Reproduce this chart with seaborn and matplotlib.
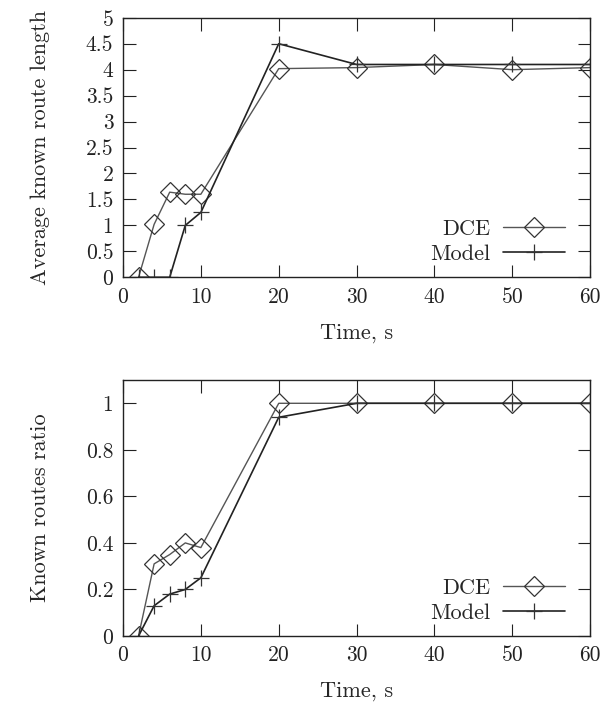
import numpy as np
import pandas as pd
import matplotlib
matplotlib.use("Agg")
import matplotlib.pyplot as plt
import seaborn as sns
from matplotlib.ticker import FuncFormatter

# data
time_s = [2, 4, 6, 8, 10, 20, 30, 40, 50, 60]
len_dce = [0, 1.02, 1.64, 1.60, 1.60, 4.02, 4.04, 4.10, 4.00, 4.04]
len_model = [0, 0, 0, 1.00, 1.25, 4.50, 4.10, 4.10, 4.10, 4.10]
ratio_dce = [0, 0.31, 0.35, 0.40, 0.38, 1.0, 1.0, 1.0, 1.0, 1.0]
ratio_model = [0, 0.13, 0.18, 0.20, 0.25, 0.94, 1.0, 1.0, 1.0, 1.0]
series_names = ["DCE", "Model"]

sns.set_style("ticks")
plt.rcParams["font.family"] = ["cmr10", "DejaVu Serif"]
plt.rcParams["axes.formatter.use_mathtext"] = True
plt.rcParams["mathtext.fontset"] = "cm"

fig = plt.figure(figsize=(6.10, 7.11), dpi=100)
ax_top = fig.add_axes([0.2016, 0.610, 0.766, 0.365])
ax_bot = fig.add_axes([0.2016, 0.1055, 0.766, 0.360])

STYLES = {
    "DCE": dict(marker="D", markersize=10, markerfacecolor="none",
                markeredgecolor="#333333", markeredgewidth=0.9,
                color="#555555", linewidth=1.0),
    "Model": dict(marker="+", markersize=12, markeredgewidth=0.9,
                  color="#222222", markeredgecolor="#333333", linewidth=1.2),
}


def fmt_g(v, pos):
    return f"{v:g}"


def draw(ax, dce, model, ylabel, ylim, yticks):
    df = pd.DataFrame({"t": time_s * 2,
                       "v": dce + model,
                       "s": [series_names[0]] * len(time_s) + [series_names[1]] * len(time_s)})
    for name in series_names:
        sub = df[df["s"] == name]
        sns.lineplot(data=sub, x="t", y="v", ax=ax, label=name,
                     estimator=None, sort=False, **STYLES[name])
    ax.set_xlim(0, 60)
    ax.set_ylim(*ylim)
    ax.set_xticks(range(0, 61, 10))
    ax.set_yticks(yticks)
    ax.yaxis.set_major_formatter(FuncFormatter(fmt_g))
    ax.xaxis.set_major_formatter(FuncFormatter(fmt_g))
    ax.tick_params(direction="in", length=9, width=0.8, top=True, right=True,
                   labelsize=15.5, colors="#222222", pad=7)
    for sp in ax.spines.values():
        sp.set_linewidth(1.0)
        sp.set_color("#222222")
        sp.set_visible(True)
    ax.set_xlabel("Time, s", fontsize=16, labelpad=12)
    ax.set_ylabel(ylabel, fontsize=16, labelpad=26)
    ax.legend(loc="lower right", bbox_to_anchor=(0.946, 0.052),
              frameon=False, markerfirst=False, borderpad=0, borderaxespad=0,
              fontsize=16, handlelength=2.8, labelspacing=0.25,
              handletextpad=0.55)


draw(ax_top, len_dce, len_model, "Average known route length", (0, 5),
     np.arange(0, 5.01, 0.5))
draw(ax_bot, ratio_dce, ratio_model, "Known routes ratio", (0, 1.1),
     np.arange(0, 1.01, 0.2))

fig.savefig("out.png", dpi=100)
